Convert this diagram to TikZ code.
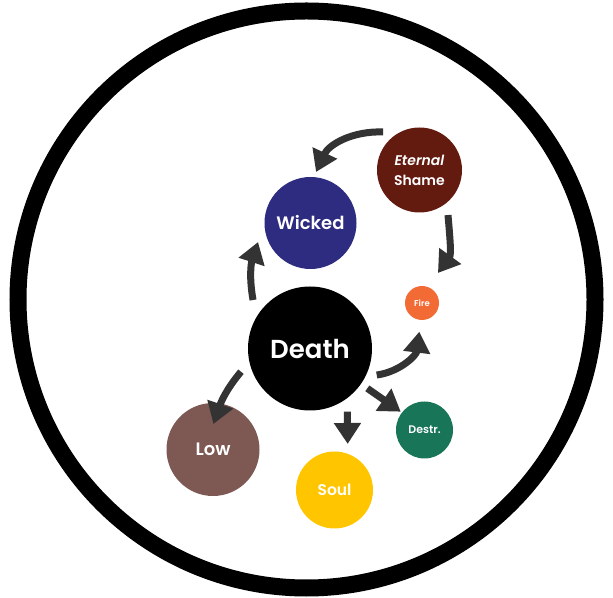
\documentclass[tikz,border=0pt]{standalone}
\usepackage{fontspec}
\setmainfont{Poppins}[BoldFont={Poppins SemiBold}, BoldItalicFont={Poppins SemiBold Italic}]
\usetikzlibrary{positioning,calc,arrows.meta}
\definecolor{wickedblue}{HTML}{2E2C80}
\definecolor{shamered}{HTML}{631B10}
\definecolor{fireorange}{HTML}{F26B35}
\definecolor{destrgreen}{HTML}{187558}
\definecolor{soulyellow}{HTML}{FFC600}
\definecolor{lowbrown}{HTML}{7E5852}
\definecolor{arrowgray}{HTML}{333333}
\newcommand{\fsz}[1]{\fontsize{#1}{#1}\selectfont}

\begin{document}
\begin{tikzpicture}[
  x=1pt, y=1pt,
  every node/.style={circle, inner sep=0pt, text=white, font=\bfseries, align=center},
  flow/.style={draw=arrowgray, line width=7pt, -{Triangle[width=26pt,length=21pt]}}
]
\useasboundingbox (0,0) rectangle (613,597);
\draw[line width=17pt] (306.5,297.5) circle (288.5);

\node[fill=black, minimum size=124pt, font=\bfseries\fsz{26}] (death) at (310,248.5) {Death};
\node[fill=wickedblue, minimum size=92pt, font=\bfseries\fsz{18}] (wicked) at (310.5,374) {Wicked};
\node[fill=shamered, minimum size=85pt, font=\bfseries\fontsize{14}{20}\selectfont] (shame) at (419.5,427) {\textit{Eternal}\\Shame};
\node[fill=fireorange, minimum size=34pt, font=\bfseries\fsz{8.5}] (fire) at (422,294) {Fire};
\node[fill=destrgreen, minimum size=57pt, font=\bfseries\fsz{11}] (destr) at (424.5,167) {Destr.};
\node[fill=soulyellow, minimum size=77pt, font=\bfseries\fsz{15.5}] (soul) at (334.5,107) {Soul};
\node[fill=lowbrown, minimum size=93pt, font=\bfseries\fsz{18}] (low) at (213,147.5) {Low};

% arrows, ends set off from the circles
\draw[flow] ($(shame)+(133.8:52.7)$) to[out=178, in=65] ($(wicked)+(83.8:51.3)$);
\draw[flow] ($(shame)+(-57.7:53.3)$) to[out=-85, in=54] ($(fire)+(62:34)$);
\draw[flow] ($(death)+(139.6:74.8)$) to[out=100, in=252] ($(wicked)+(199.9:55.8)$);
\draw[flow] ($(death)+(-21.7:71.8)$) to[out=8, in=263] ($(fire)+(-95.4:28.8)$);
\draw[flow] ($(death)+(-34.8:69.8)$) -- ($(destr)+(142.4:30)$);
\draw[flow] ($(death)+(-59.4:73.4)$) -- ($(soul)+(74:47.9)$);
\draw[flow] ($(death)+(-161.4:72.8)$) to[out=-130, in=71] ($(low)+(89:25.5)$);
\end{tikzpicture}
\end{document}
